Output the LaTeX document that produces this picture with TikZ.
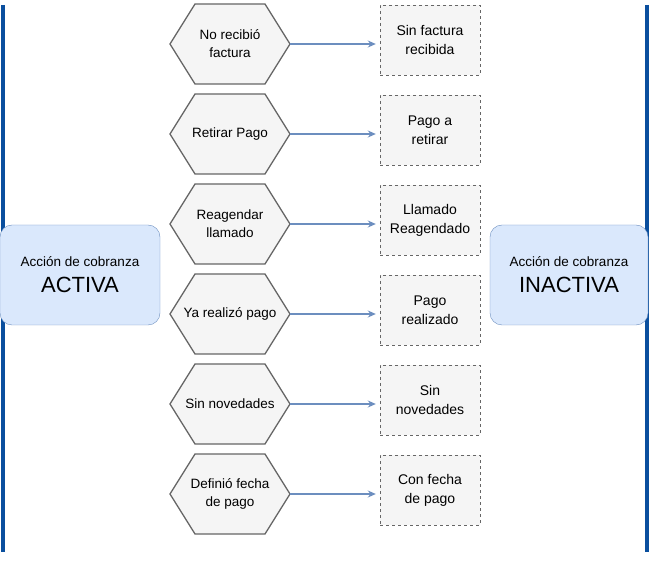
\documentclass[tikz,border=0pt]{standalone}
\usepackage{fontspec}
\setmainfont{Liberation Sans}
\usetikzlibrary{arrows.meta}
\definecolor{gfill}{HTML}{F5F5F5}
\definecolor{gline}{HTML}{666666}
\definecolor{bfill}{HTML}{DAE8FC}
\definecolor{bline}{HTML}{6C8EBF}
\definecolor{vline}{HTML}{0A4F9E}
\begin{document}
\begin{tikzpicture}[x=1pt,y=-1pt,
  lbl/.style={align=center,font=\fontsize{13.5}{18}\selectfont,inner sep=0pt,minimum width=120pt,minimum height=80pt},
  box/.style={draw=gline,dashed,fill=gfill,minimum width=100pt,minimum height=70pt,align=center,font=\fontsize{14}{19}\selectfont,inner sep=0pt},
  state/.style={draw=bline,fill=bfill,rounded corners=12pt,minimum width=160pt,minimum height=100pt,align=center,inner sep=0pt},
  arr/.style={draw=bline,line width=1.5pt,-{Stealth[length=8pt,width=7pt]}},
  hexa/.style={draw=gline,fill=gfill,line width=1.3pt}]
\useasboundingbox (0,0) rectangle (651,561);
\draw[vline,line width=3.5pt] (3,5) -- (3,552);
\draw[vline,line width=3.5pt] (647,5) -- (647,552);
\node[state,font=\fontsize{22}{26}\selectfont] (act) at (80,275) {{\fontsize{13.5}{17}\selectfont Acción de cobranza}\\ACTIVA};
\node[state,minimum width=158pt,font=\fontsize{22}{26}\selectfont] (ina) at (569,275) {{\fontsize{13.5}{17}\selectfont Acción de cobranza}\\INACTIVA};
\foreach \i/\y/\h/\b in {1/44/{No recibió\\factura}/{Sin factura\\recibida},
  2/134/{Retirar Pago}/{Pago a\\retirar},
  3/224/{Reagendar\\llamado}/{Llamado\\Reagendado},
  4/314/{Ya realizó pago}/{Pago\\realizado},
  5/404/{Sin novedades}/{Sin\\novedades},
  6/494/{Definió fecha\\de pago}/{Con fecha\\de pago}}{
  \draw[hexa] (170,\y) -- (195,\y-40) -- (265,\y-40) -- (290,\y) -- (265,\y+40) -- (195,\y+40) -- cycle;
  \node[lbl] (h\i) at (230,\y) {\h};
  \node[box] (b\i) at (430,\y-4) {\b};
  \draw[arr] (h\i.east) -- ([xshift=-4pt,yshift=-4pt]b\i.west);
}
\end{tikzpicture}
\end{document}
